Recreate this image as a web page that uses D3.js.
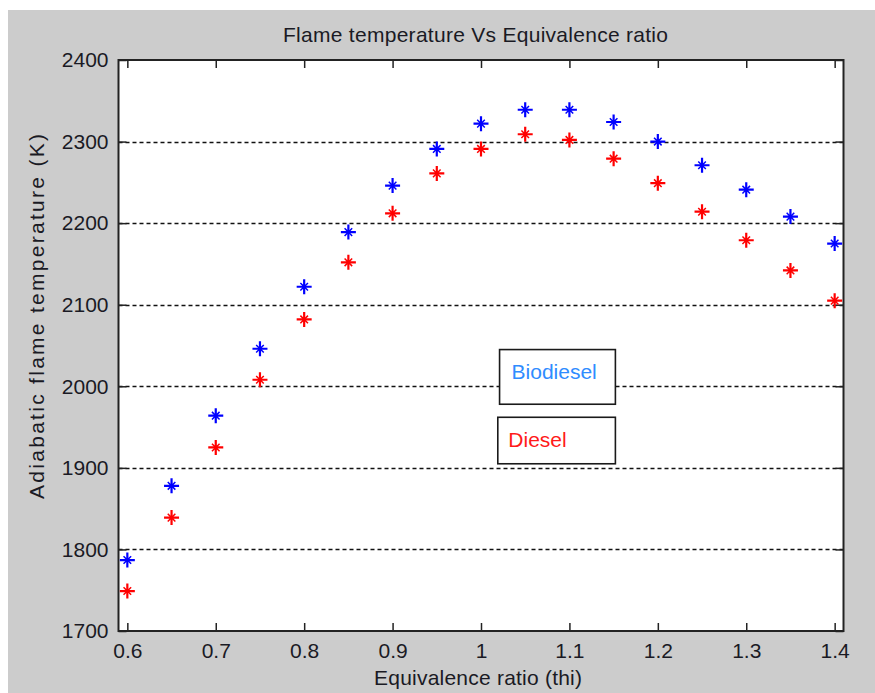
<!DOCTYPE html>
<html>
<head>
<meta charset="utf-8">
<script src="https://cdn.jsdelivr.net/npm/d3@7/dist/d3.min.js"></script>
<style>
  html, body { margin: 0; padding: 0; background: #ffffff; }
  svg { display: block; }
  text { font-family: "Liberation Sans", Arial, Helvetica, sans-serif; fill: #1a1a24; }
</style>
</head>
<body>
<div id="chart"></div>
<script>
// Equivalence ratio values (x) and adiabatic flame temperature (K) for each fuel
const phi = [0.6, 0.65, 0.7, 0.75, 0.8, 0.85, 0.9, 0.95, 1.0, 1.05, 1.1, 1.15, 1.2, 1.25, 1.3, 1.35, 1.4];
const biodiesel = [1787, 1878, 1964, 2046, 2122, 2189, 2246, 2291, 2322, 2339, 2339, 2324, 2300, 2271, 2241, 2208, 2175];
const diesel = [1749, 1839, 1925, 2008, 2082, 2152, 2212, 2261, 2291, 2309, 2302, 2279, 2249, 2214, 2179, 2142, 2105];

const xTicks = [0.6, 0.7, 0.8, 0.9, 1, 1.1, 1.2, 1.3, 1.4];
const yTicks = [1700, 1800, 1900, 2000, 2100, 2200, 2300, 2400];
const yGrid = [1800, 1900, 2000, 2100, 2200, 2300];

const seriesNames = ["Biodiesel", "Diesel"];
const seriesColors = ["#0000ff", "#ff0000"];
const labelColors = ["#2f8cff", "#ff1a1a"];

const W = 875, H = 693;
const plot = { left: 118.5, right: 843.5, top: 60, bottom: 631 };
const FS = 21;

const x = d3.scaleLinear().domain([0.59, 1.41]).range([plot.left, plot.right]);
const y = d3.scaleLinear().domain([1700, 2400]).range([plot.bottom, plot.top]);

const svg = d3.select("#chart").append("svg").attr("width", W).attr("height", H);

// figure background
svg.append("rect").attr("x", 8).attr("y", 10).attr("width", W - 8).attr("height", H - 10).attr("fill", "#cccccc");

// axes area
svg.append("rect")
  .attr("x", plot.left).attr("y", plot.top)
  .attr("width", plot.right - plot.left).attr("height", plot.bottom - plot.top)
  .attr("fill", "#ffffff");

// dashed horizontal grid
svg.append("g").selectAll("line").data(yGrid).join("line")
  .attr("x1", plot.left).attr("x2", plot.right)
  .attr("y1", d => Math.round(y(d)) + 0.5).attr("y2", d => Math.round(y(d)) + 0.5)
  .attr("stroke", "#111").attr("stroke-width", 1.5).attr("stroke-dasharray", "4,3");

// bottom and top axes with inward ticks
const fmtX = d => (d === 1 ? "1" : d3.format(".1f")(d));
const gx = svg.append("g").attr("transform", `translate(0,${plot.bottom})`)
  .call(d3.axisBottom(x).tickValues(xTicks).tickSize(-8).tickPadding(18).tickFormat(fmtX));
const gxTop = svg.append("g").attr("transform", `translate(0,${plot.top})`)
  .call(d3.axisTop(x).tickValues(xTicks).tickSize(-8).tickFormat(""));
// left and right axes with inward ticks
const gy = svg.append("g").attr("transform", `translate(${plot.left},0)`)
  .call(d3.axisLeft(y).tickValues(yTicks).tickSize(-8).tickPadding(10).tickFormat(d3.format("d")));
const gyRight = svg.append("g").attr("transform", `translate(${plot.right},0)`)
  .call(d3.axisRight(y).tickValues(yTicks).tickSize(-8).tickFormat(""));

[gx, gxTop, gy, gyRight].forEach(g => {
  g.select(".domain").remove();
  g.selectAll(".tick line").attr("stroke", "#222").attr("stroke-width", 1.5);
  g.selectAll(".tick text").attr("font-size", FS).attr("fill", "#1a1a24");
});
gx.selectAll(".tick text").attr("dy", "0.45em");

// axes box
svg.append("rect")
  .attr("x", plot.left).attr("y", plot.top)
  .attr("width", plot.right - plot.left).attr("height", plot.bottom - plot.top)
  .attr("fill", "none").attr("stroke", "#222").attr("stroke-width", 2);

// asterisk markers: long plus arms with shorter, thinner diagonals
const plusArms = "M-7.5,0H7.5M0,-7.5V7.5";
const diagArms = "M-3.8,-3.8L3.8,3.8M-3.8,3.8L3.8,-3.8";
[biodiesel, diesel].forEach((vals, i) => {
  const g = svg.append("g").selectAll("g").data(vals).join("g")
    .attr("transform", (d, j) => `translate(${x(phi[j])},${y(d)})`);
  g.append("path").attr("d", plusArms).attr("fill", "none")
    .attr("stroke", seriesColors[i]).attr("stroke-width", 2.2);
  g.append("path").attr("d", diagArms).attr("fill", "none")
    .attr("stroke", seriesColors[i]).attr("stroke-width", 1.5);
  g.append("circle").attr("r", 2.2).attr("fill", seriesColors[i]);
});

// boxed text annotations naming each series
const boxes = [
  { x0: 1.021, x1: 1.152, y0: 2045, y1: 1978, dx: 12, dy: 2.5 },
  { x0: 1.019, x1: 1.152, y0: 1962, y1: 1905, dx: 10.5, dy: 6.5 }
];
boxes.forEach((b, i) => {
  svg.append("rect")
    .attr("x", x(b.x0)).attr("y", y(b.y0))
    .attr("width", x(b.x1) - x(b.x0)).attr("height", y(b.y1) - y(b.y0))
    .attr("fill", "#ffffff").attr("stroke", "#1a1a1a").attr("stroke-width", 1.6);
  svg.append("text")
    .attr("x", x(b.x0) + b.dx)
    .attr("y", (y(b.y0) + y(b.y1)) / 2 + b.dy)
    .attr("font-size", FS)
    .style("fill", labelColors[i])
    .text(seriesNames[i]);
});

// title and axis labels
svg.append("text")
  .attr("x", 475.5).attr("y", 42)
  .attr("text-anchor", "middle").attr("font-size", FS)
  .attr("textLength", 385).attr("lengthAdjust", "spacing")
  .text("Flame temperature Vs Equivalence ratio");

svg.append("text")
  .attr("x", 478).attr("y", 685)
  .attr("text-anchor", "middle").attr("font-size", FS)
  .attr("textLength", 208).attr("lengthAdjust", "spacing")
  .text("Equivalence ratio (thi)");

svg.append("text")
  .attr("transform", "translate(44,316.5) rotate(-90)")
  .attr("text-anchor", "middle").attr("font-size", FS)
  .attr("textLength", 365).attr("lengthAdjust", "spacing")
  .text("Adiabatic flame temperature (K)");
</script>
</body>
</html>
